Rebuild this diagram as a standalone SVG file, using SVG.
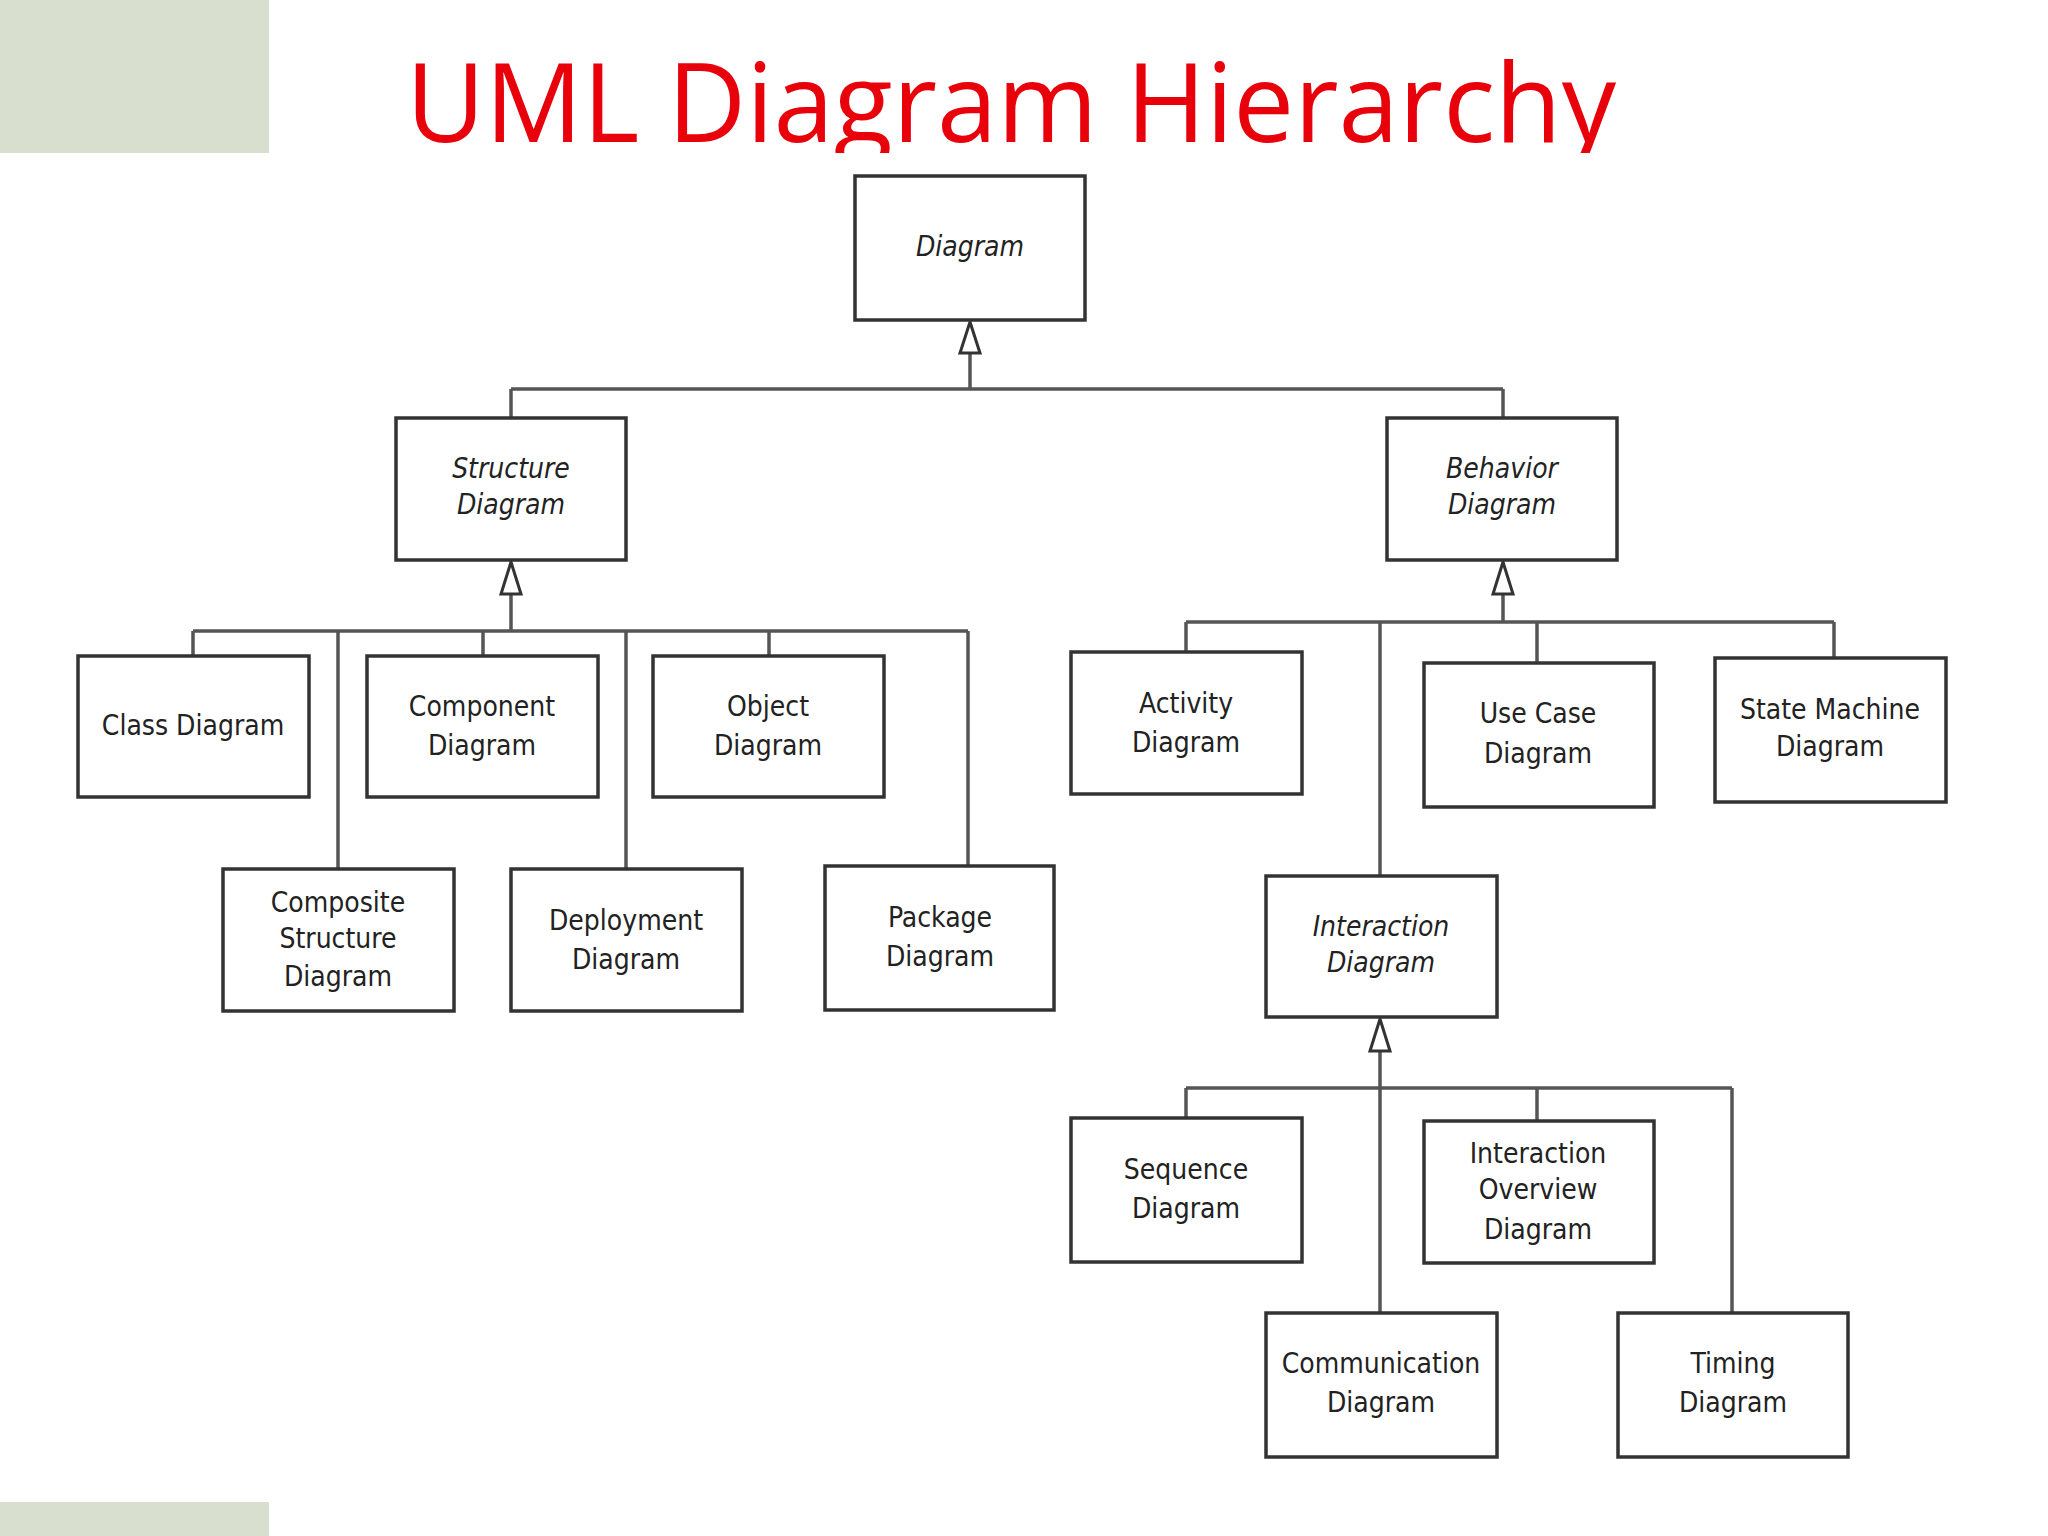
<svg xmlns="http://www.w3.org/2000/svg" width="2048" height="1536" viewBox="0 0 2048 1536">
<style>
.b{fill:#fff;stroke:#333;stroke-width:3.5}
.t{font-family:"DejaVu Sans Condensed","Liberation Sans",sans-serif;font-size:28px;fill:#222;text-anchor:middle}
.i{font-style:italic}
.c{fill:none;stroke:#555;stroke-width:3.5}
.a{fill:#fff;stroke:#333;stroke-width:3}
</style>
<defs><clipPath id="tc"><rect x="0" y="0" width="2048" height="153"/></clipPath></defs>
<rect width="2048" height="1536" fill="#fff"/>
<rect x="0" y="0" width="269" height="153" fill="#d9dfcf"/>
<rect x="0" y="1502" width="269" height="34" fill="#d9dfcf"/>
<text x="1011" y="142" clip-path="url(#tc)" font-family="'Open Sans','Liberation Sans',sans-serif" font-size="109" fill="#e8000b" text-anchor="middle" textLength="1210" lengthAdjust="spacingAndGlyphs">UML Diagram Hierarchy</text>
<g id="connectors">
<path class="c" d="M970 353V389M511 389H1503M511 389V418M1503 389V418"/>
<path class="c" d="M511 594V631M193 631H968M193 631V656M338 631V869M483 631V656M626 631V869M769 631V656M968 631V866"/>
<path class="c" d="M1503 594V622M1186 622H1834M1186 622V652M1380 622V876M1537 622V663M1834 622V658"/>
<path class="c" d="M1380 1051V1088M1186 1088H1732M1186 1088V1118M1380 1088V1313M1537 1088V1121M1732 1088V1313"/>
<path class="a" d="M970 322L960 353H980Z"/>
<path class="a" d="M511 562L501 594H521Z"/>
<path class="a" d="M1503 562L1493 594H1513Z"/>
<path class="a" d="M1380 1019L1370 1051H1390Z"/>
</g>
<g id="diagram"><rect class="b" x="855" y="176" width="230" height="144"/><text class="t i" x="970" y="256">Diagram</text></g>
<g id="structure"><rect class="b" x="396" y="418" width="230" height="142"/><text class="t i" x="511" y="478">Structure</text><text class="t i" x="511" y="514">Diagram</text></g>
<g id="behavior"><rect class="b" x="1387" y="418" width="230" height="142"/><text class="t i" x="1502" y="478">Behavior</text><text class="t i" x="1502" y="514">Diagram</text></g>
<g id="class"><rect class="b" x="78" y="656" width="231" height="141"/><text class="t" x="193" y="735">Class Diagram</text></g>
<g id="component"><rect class="b" x="367" y="656" width="231" height="141"/><text class="t" x="482" y="716">Component</text><text class="t" x="482" y="755">Diagram</text></g>
<g id="object"><rect class="b" x="653" y="656" width="231" height="141"/><text class="t" x="768" y="716">Object</text><text class="t" x="768" y="755">Diagram</text></g>
<g id="composite"><rect class="b" x="223" y="869" width="231" height="142"/><text class="t" x="338" y="912">Composite</text><text class="t" x="338" y="948">Structure</text><text class="t" x="338" y="986">Diagram</text></g>
<g id="deployment"><rect class="b" x="511" y="869" width="231" height="142"/><text class="t" x="626" y="930">Deployment</text><text class="t" x="626" y="969">Diagram</text></g>
<g id="package"><rect class="b" x="825" y="866" width="229" height="144"/><text class="t" x="940" y="927">Package</text><text class="t" x="940" y="966">Diagram</text></g>
<g id="activity"><rect class="b" x="1071" y="652" width="231" height="142"/><text class="t" x="1186" y="713">Activity</text><text class="t" x="1186" y="752">Diagram</text></g>
<g id="usecase"><rect class="b" x="1424" y="663" width="230" height="144"/><text class="t" x="1538" y="723">Use Case</text><text class="t" x="1538" y="763">Diagram</text></g>
<g id="statemachine"><rect class="b" x="1715" y="658" width="231" height="144"/><text class="t" x="1830" y="719">State Machine</text><text class="t" x="1830" y="756">Diagram</text></g>
<g id="interaction"><rect class="b" x="1266" y="876" width="231" height="141"/><text class="t i" x="1381" y="936">Interaction</text><text class="t i" x="1381" y="972">Diagram</text></g>
<g id="sequence"><rect class="b" x="1071" y="1118" width="231" height="144"/><text class="t" x="1186" y="1179">Sequence</text><text class="t" x="1186" y="1218">Diagram</text></g>
<g id="interactionoverview"><rect class="b" x="1424" y="1121" width="230" height="142"/><text class="t" x="1538" y="1163">Interaction</text><text class="t" x="1538" y="1199">Overview</text><text class="t" x="1538" y="1239">Diagram</text></g>
<g id="communication"><rect class="b" x="1266" y="1313" width="231" height="144"/><text class="t" x="1381" y="1373">Communication</text><text class="t" x="1381" y="1412">Diagram</text></g>
<g id="timing"><rect class="b" x="1618" y="1313" width="230" height="144"/><text class="t" x="1733" y="1373">Timing</text><text class="t" x="1733" y="1412">Diagram</text></g>
</svg>
